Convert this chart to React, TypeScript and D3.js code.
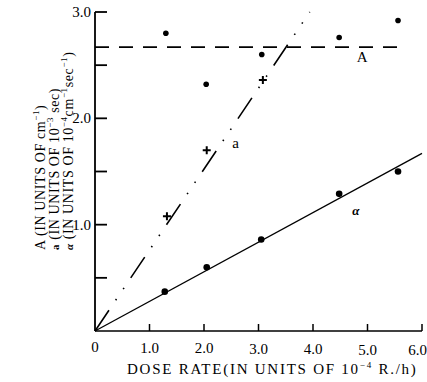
import React from 'react';
import * as d3 from 'd3';

const doseA = [1.3, 2.04, 3.06, 4.48, 5.56];
const valueA = [2.8, 2.32, 2.6, 2.76, 2.92];
const doseSmallA = [1.32, 2.05, 3.08];
const valueSmallA = [1.08, 1.7, 2.36];
const doseAlpha = [1.28, 2.05, 3.05, 4.48, 5.56];
const valueAlpha = [0.37, 0.6, 0.86, 1.29, 1.5];

// fitted lines [x0, y0, x1, y1]
const fitA = [0, 2.67, 5.65, 2.67];
const fitSmallA = [0, 0, 3.94, 3.0];
const fitAlpha = [0, 0, 6.0, 1.67];

const xTicks = [0, 1, 2, 3, 4, 5, 6];
const yTicks = [1, 2, 3];
const yMinor = [0.5, 1.5, 2.5];

const width = 427;
const height = 382;
const font = '"Liberation Serif", "DejaVu Serif", serif';

const App: React.FC = () => {
  const x = d3.scaleLinear().domain([0, 6]).range([95, 422]);
  const y = d3.scaleLinear().domain([0, 3]).range([331, 12]);
  const line = (f: number[]) =>
    d3.line()([
      [x(f[0]), y(f[1])],
      [x(f[2]), y(f[3])],
    ])!;

  return (
    <svg
      width={width}
      height={height}
      style={{ position: 'absolute', left: 0, top: 0, background: '#fff' }}
      fontFamily={font}
    >
      {/* axes */}
      <line x1={x(0)} x2={x(0)} y1={y(0)} y2={y(3)} stroke="#000" strokeWidth={1.8} />
      <line x1={x(0)} x2={x(6)} y1={y(0)} y2={y(0)} stroke="#000" strokeWidth={1.5} />
      {yTicks.map((t) => (
        <g key={'y' + t}>
          <line x1={x(0)} x2={x(0) + 12} y1={y(t)} y2={y(t)} stroke="#000" strokeWidth={1.8} />
          <text x={x(0) - 4} y={y(t) + 5} textAnchor="end" fontSize={15}>
            {t.toFixed(1)}
          </text>
        </g>
      ))}
      {yMinor.map((t) => (
        <line key={'ym' + t} x1={x(0)} x2={x(0) + 12} y1={y(t)} y2={y(t)} stroke="#000" strokeWidth={1.8} />
      ))}
      {xTicks.slice(1).map((t) => (
        <line key={'x' + t} x1={x(t)} x2={x(t)} y1={y(0)} y2={y(0) - 7} stroke="#000" strokeWidth={1.5} />
      ))}
      {xTicks.map((t) => (
        <text
          key={'xl' + t}
          x={t === 6 ? 427 : x(t)}
          y={y(0) + 21 + t * 0.5}
          textAnchor={t === 6 ? 'end' : 'middle'}
          fontSize={15}
        >
          {t === 0 ? '0' : t.toFixed(1)}
        </text>
      ))}

      {/* fitted lines */}
      <path d={line(fitA)} stroke="#000" strokeWidth={1.6} strokeDasharray="14,10" fill="none" />
      <path
        d={line(fitSmallA)}
        stroke="#000"
        strokeWidth={1.6}
        strokeDasharray="25,12,1.5,12,1.5,12"
        fill="none"
      />
      <path d={line(fitAlpha)} stroke="#000" strokeWidth={1.3} fill="none" />

      {/* points */}
      {doseA.map((d, i) => (
        <circle key={'A' + i} cx={x(d)} cy={y(valueA[i])} r={2.8} fill="#000" />
      ))}
      {doseAlpha.map((d, i) => (
        <circle key={'al' + i} cx={x(d)} cy={y(valueAlpha[i])} r={3.3} fill="#000" />
      ))}
      {doseSmallA.map((d, i) => (
        <path
          key={'a' + i}
          d={`M${x(d) - 4},${y(valueSmallA[i])}h8M${x(d)},${y(valueSmallA[i]) - 4}v8`}
          stroke="#000"
          strokeWidth={2}
        />
      ))}

      {/* curve labels */}
      <text x={x(4.9)} y={y(2.53)} textAnchor="middle" fontSize={15}>A</text>
      <text x={x(2.52)} y={y(1.72)} fontSize={15}>a</text>
      <text x={x(4.72)} y={y(1.09)} fontSize={13} fontWeight="bold" fontStyle="italic">α</text>

      {/* x label */}
      <text x={127} y={374} fontSize={15} letterSpacing={1.75}>
        DOSE RATE(IN UNITS OF 10
        <tspan fontSize={9} dy={-6}>−4</tspan>
        <tspan dy={6}> R./h)</tspan>
      </text>

      {/* y labels */}
      <g transform="translate(45,250) rotate(-90)">
        <text fontSize={14} letterSpacing={0.6}>
          A (IN UNITS OF cm<tspan fontSize={9} dy={-6}>−1</tspan>
          <tspan dy={6}>)</tspan>
        </text>
      </g>
      <g transform="translate(59,250) rotate(-90)">
        <text fontSize={14} letterSpacing={0.6}>
          <tspan fontWeight="bold" fontSize={11}>a</tspan> (IN UNITS OF 10
          <tspan fontSize={9} dy={-6}>−3</tspan>
          <tspan dy={6}> sec)</tspan>
        </text>
      </g>
      <g transform="translate(73,250) rotate(-90)">
        <text fontSize={14} letterSpacing={0.6}>
          <tspan fontWeight="bold" fontStyle="italic" fontSize={11}>α</tspan> (IN UNITS OF 10
          <tspan fontSize={9} dy={-6}>−4</tspan>
          <tspan dy={6}>cm</tspan>
          <tspan fontSize={9} dy={-6}>−1</tspan>
          <tspan dy={6}>sec</tspan>
          <tspan fontSize={9} dy={-6}>−1</tspan>
          <tspan dy={6}>)</tspan>
        </text>
      </g>
    </svg>
  );
};

export default App;
